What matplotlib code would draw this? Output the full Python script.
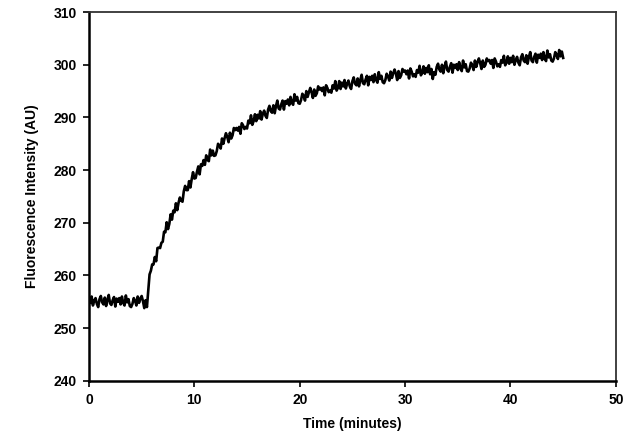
import numpy as np
import matplotlib
matplotlib.use("Agg")
import matplotlib.pyplot as plt

# time axis: one reading every 0.125 min, 0 .. 45 min
t_start, t_step = 0.0, 0.125

# fluorescence readings (AU), eight per minute
intensity = [
    255.6, 254.8, 256.0, 254.3, 255.2, 255.7, 254.6, 254.0,   # 0
    255.5, 256.1, 254.9, 254.5, 255.8, 254.2, 255.4, 256.3,   # 1
    254.7, 254.4, 255.3, 255.9, 254.1, 255.6, 255.0, 255.7,   # 2
    254.5, 256.0, 254.8, 254.3, 256.2, 254.9, 255.5, 254.2,   # 3
    254.0, 254.6, 255.7, 255.2, 254.3, 256.0, 254.8, 255.6,   # 4
    256.1, 255.1, 253.8, 255.3, 254.0, 257.2, 260.2, 260.9,   # 5
    262.1, 262.1, 263.5, 262.7, 265.2, 265.3, 265.2, 266.2,   # 6
    266.4, 268.3, 268.2, 270.1, 268.8, 269.8, 271.6, 270.6,   # 7
    272.3, 272.0, 273.7, 272.4, 273.8, 274.8, 274.2, 274.0,   # 8
    276.0, 277.0, 276.2, 276.2, 277.9, 276.7, 278.3, 279.6,   # 9
    278.4, 278.5, 279.7, 280.7, 279.2, 281.1, 280.8, 281.9,   # 10
    281.0, 282.8, 281.9, 281.7, 283.9, 282.8, 283.7, 282.7,   # 11
    282.8, 283.6, 285.0, 284.7, 284.1, 286.0, 285.0, 286.1,   # 12
    287.0, 286.3, 285.3, 287.1, 286.0, 286.6, 288.0, 287.6,   # 13
    288.0, 287.5, 288.2, 286.9, 288.9, 288.5, 287.8, 288.2,   # 14
    287.9, 289.4, 288.9, 290.4, 288.6, 289.3, 290.6, 289.3,   # 15
    290.5, 289.8, 291.2, 289.6, 290.7, 291.3, 290.3, 289.9,   # 16
    291.5, 292.2, 291.2, 290.9, 292.3, 290.8, 292.2, 293.2,   # 17
    291.7, 291.5, 292.5, 293.2, 291.5, 293.1, 292.6, 293.4,   # 18
    292.3, 293.9, 292.8, 292.4, 294.4, 293.2, 293.9, 292.7,   # 19
    292.6, 293.3, 294.5, 294.1, 293.2, 295.0, 293.9, 294.8,   # 20
    295.6, 294.8, 293.7, 295.3, 294.1, 294.6, 295.9, 295.3,   # 21
    295.6, 295.0, 295.7, 294.2, 296.1, 295.6, 294.8, 295.1,   # 22
    294.7, 296.1, 295.5, 296.9, 295.1, 295.6, 296.9, 295.4,   # 23
    296.6, 295.9, 297.1, 295.5, 296.4, 297.0, 295.9, 295.4,   # 24
    296.9, 297.6, 296.4, 296.1, 297.4, 295.9, 297.1, 298.1,   # 25
    296.5, 296.3, 297.2, 297.9, 296.1, 297.7, 297.1, 297.9,   # 26
    296.7, 298.2, 297.1, 296.6, 298.6, 297.3, 297.9, 296.7,   # 27
    296.5, 297.1, 298.3, 297.8, 297.0, 298.7, 297.5, 298.4,   # 28
    299.1, 298.3, 297.1, 298.8, 297.5, 298.0, 299.2, 298.7,   # 29
    298.9, 298.2, 298.9, 297.4, 299.3, 298.7, 297.8, 298.2,   # 30
    297.7, 299.0, 298.5, 299.8, 298.0, 298.5, 299.7, 298.3,   # 31
    299.4, 298.6, 299.9, 298.2, 299.2, 297.3, 298.6, 298.1,   # 32
    299.6, 300.2, 299.1, 298.7, 300.0, 298.4, 299.7, 300.6,   # 33
    299.0, 298.7, 299.6, 300.3, 298.5, 300.0, 299.4, 300.1,   # 34
    299.0, 300.5, 299.3, 298.8, 300.8, 299.5, 300.1, 298.8,   # 35
    298.7, 299.3, 300.4, 299.9, 299.0, 300.8, 299.6, 300.5,   # 36
    301.2, 300.3, 299.2, 300.8, 299.6, 300.0, 301.2, 300.7,   # 37
    300.9, 300.2, 300.9, 299.4, 301.2, 300.6, 299.7, 300.1,   # 38
    299.6, 300.9, 300.4, 301.7, 299.9, 300.4, 301.6, 300.2,   # 39
    301.3, 300.5, 301.7, 300.0, 300.9, 301.5, 300.4, 299.9,   # 40
    301.4, 302.0, 300.8, 300.5, 301.8, 300.2, 301.5, 302.4,   # 41
    300.8, 300.5, 301.5, 302.1, 300.4, 301.9, 301.3, 302.1,   # 42
    300.9, 302.4, 301.2, 300.7, 302.7, 301.4, 302.0, 300.8,   # 43
    300.6, 301.2, 302.4, 301.9, 301.1, 302.8, 301.6, 302.5,   # 44
    301.3,
]
time_min = t_start + t_step * np.arange(len(intensity))

x_ticks = [0, 10, 20, 30, 40, 50]
y_ticks = [240, 250, 260, 270, 280, 290, 300, 310]

plt.rcParams['font.family'] = ['Liberation Sans', 'DejaVu Sans']

fig = plt.figure(figsize=(6.31, 4.48), dpi=100)
ax = fig.add_axes([0.141, 0.150, 0.835, 0.823])

ax.plot(time_min, intensity, color='black', lw=1.9)

ax.set_xlim(0, 50)
ax.set_ylim(240, 310)
ax.set_xticks(x_ticks)
ax.set_yticks(y_ticks)
ax.tick_params(direction='out', length=4, width=1.2, labelsize=10, pad=5)
for lab in ax.get_xticklabels() + ax.get_yticklabels():
    lab.set_fontweight('bold')

for side in ['left', 'bottom']:
    ax.spines[side].set_linewidth(1.8)
    ax.spines[side].set_color('black')
for side in ['top', 'right']:
    ax.spines[side].set_linewidth(1.3)
    ax.spines[side].set_color('#333333')

ax.set_xlabel('Time (minutes)', fontsize=10, fontweight='bold', labelpad=7)
ax.set_ylabel('Fluorescence Intensity (AU)', fontsize=10, fontweight='bold', labelpad=10)

fig.savefig('out.png', dpi=100)
